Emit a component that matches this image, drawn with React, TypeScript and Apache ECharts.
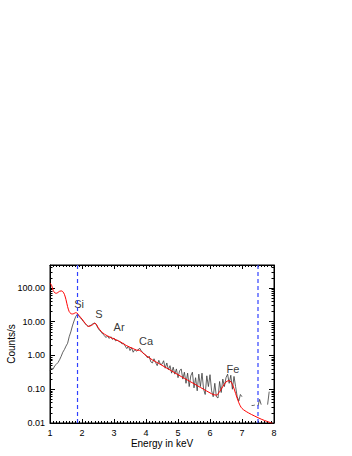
import React, { useEffect, useRef } from "react";
import * as echarts from "echarts";

// Observed spectrum (black), E = 1.00 + 0.05*i keV
const dataStart = 1.0;
const dataStep = 0.05;
const observedCounts: (number | null)[] = [
  0.35, 0.42, 0.4, 0.5, 0.55, 0.62, 0.75, 0.95, 1.25, 1.5,
  1.9, 2.3, 3.6, 5.0, 7.5, 10.5, 14, 16.5, 15, 13,
  11.5, 10, 8.8, 7.8, 7.3, 7.6, 8.2, 8.8, 9.2, 8.0,
  6.5, 5.5, 5.0, 4.3, 3.9, 3.4, 3.8, 3.2, 3.6, 3.0,
  3.3, 2.7, 2.9, 2.6, 2.5, 2.2, 2.3, 1.9, 1.6, 1.9,
  1.4, 1.7, 1.25, 1.5, 1.35, 1.45, 1.65, 1.4, 1.2, 1.1,
  1.0, 0.85, 0.95, 0.65, 0.6, 0.8, 0.62, 0.5, 0.72, 0.55,
  0.55, 0.7, 0.42, 0.6, 0.38, 0.5, 0.3, 0.45, 0.28, 0.4,
  0.22, 0.35, 0.4, 0.2, 0.32, 0.15, 0.3, 0.12, 0.25, 0.32,
  0.11, 0.22, 0.09, 0.28, 0.12, 0.3, 0.1, 0.07, 0.25, 0.12,
  0.27, 0.09, 0.06, 0.15, 0.06, 0.055, 0.17, 0.08, 0.2, 0.12,
  0.22, 0.28, 0.15, 0.26, 0.1, 0.24, 0.12, 0.06, 0.045, 0.07,
  0.06, null, null, null, null, null, 0.033, 0.033, 0.034, null,
  0.032, 0.05, 0.035, null, null, null, 0.035, 0.085,
];

// Model spectrum (red)
const modelEnergy = [
  1.0, 1.05, 1.1, 1.15, 1.2, 1.25, 1.3, 1.35, 1.4, 1.45,
  1.5, 1.55, 1.6, 1.65, 1.7, 1.75, 1.8, 1.85, 1.9, 2.0,
  2.1, 2.2, 2.3, 2.4, 2.45, 2.5, 2.6, 2.7, 2.8, 2.9,
  3.0, 3.1, 3.2, 3.3, 3.4, 3.5, 3.6, 3.7, 3.8, 3.9,
  4.0, 4.2, 4.4, 4.6, 4.8, 5.0, 5.2, 5.4, 5.6, 5.8,
  6.0, 6.1, 6.2, 6.3, 6.4, 6.5, 6.6, 6.7, 6.8, 6.9,
  7.0, 7.2, 7.4, 7.6, 7.8, 7.95,
];
const modelCounts = [
  140, 120, 85, 72, 70, 74, 80, 82, 78, 65,
  45, 28, 20, 17.5, 17, 17.5, 18.5, 18, 15.5, 12,
  9, 7.3, 7.8, 9.0, 8.4, 6.8, 5.2, 4.3, 3.8, 3.4,
  3.1, 2.8, 2.55, 2.2, 1.95, 1.75, 1.6, 1.45, 1.42, 1.2,
  1.0, 0.74, 0.58, 0.45, 0.35, 0.27, 0.21, 0.165, 0.128, 0.1,
  0.078, 0.07, 0.067, 0.085, 0.12, 0.165, 0.18, 0.14, 0.075, 0.04,
  0.027, 0.02, 0.016, 0.013, 0.011, 0.0098,
];

// Emission line labels
const lineNames = ["Si", "S", "Ar", "Ca", "Fe"];
const lineEnergy = [1.91, 2.53, 3.16, 4.0, 6.72];
const lineLabelY = [34, 17.5, 7.2, 2.6, 0.41];

// Vertical dashed limits (keV)
const limits = [7.5, 1.86];

const xMin = 1;
const xMax = 8;
const yMin = 0.01;
const yMax = 480;

export default function App() {
  const ref = useRef<HTMLDivElement>(null);
  useEffect(() => {
    if (!ref.current) return;
    const chart = echarts.init(ref.current, null, { renderer: "svg" });
    const font = "Liberation Sans, Arial, Helvetica, sans-serif";
    const obs = observedCounts.map((v, i) => [
      +(dataStart + i * dataStep).toFixed(2),
      v === null ? "-" : v,
    ]);
    const model = modelEnergy.map((e, i) => [e, modelCounts[i]]);
    const labels = lineNames.map((n, i) => ({
      name: n,
      value: [lineEnergy[i], lineLabelY[i]],
    }));
    const limitSeries = limits.map((x, i) => ({
      type: "line",
      name: "limit" + i,
      data: [
        [x, yMin],
        [x, yMax],
      ],
      symbol: "none",
      showSymbol: false,
      silent: true,
      color: "#3040ff",
      lineStyle: { color: "#3040ff", type: [4, 3], width: 1.2 },
      z: 5,
    }));
    const tickStyle = { lineStyle: { color: "#000", width: 1 } };
    chart.setOption({
      animation: false,
      backgroundColor: "#fff",
      textStyle: { fontFamily: font },
      grid: {
        left: 50,
        right: 78,
        top: 265,
        bottom: 33,
        containLabel: false,
        outerBoundsMode: "none",
        show: true,
        borderColor: "#000",
        borderWidth: 1,
        backgroundColor: "transparent",
      },
      xAxis: [
        {
          type: "value",
          min: xMin,
          max: xMax,
          interval: 1,
          position: "bottom",
          name: "Energy in keV",
          nameLocation: "middle",
          nameGap: 15,
          nameMoveOverlap: false,
          nameTextStyle: { fontSize: 10, color: "#000", fontFamily: font },
          axisLine: { show: true, lineStyle: { color: "#000", width: 1 } },
          axisTick: { show: true, inside: true, length: 4, ...tickStyle },
          minorTick: { show: true, splitNumber: 10, length: 2, ...tickStyle },
          axisLabel: { fontSize: 9, color: "#000", margin: 5, fontFamily: font },
          splitLine: { show: false },
        },
        {
          type: "value",
          min: xMin,
          max: xMax,
          interval: 1,
          position: "top",
          axisLine: { show: true, lineStyle: { color: "#000", width: 1 } },
          axisTick: { show: true, inside: true, length: 4, ...tickStyle },
          minorTick: { show: true, splitNumber: 10, length: 2, ...tickStyle },
          axisLabel: { show: false },
          splitLine: { show: false },
        },
      ],
      yAxis: [
        {
          type: "log",
          logBase: 10,
          min: yMin,
          max: yMax,
          position: "left",
          name: "Counts/s",
          nameLocation: "middle",
          nameGap: 34,
          nameMoveOverlap: false,
          nameTextStyle: { fontSize: 10, color: "#000", fontFamily: font },
          axisLine: { show: true, lineStyle: { color: "#000", width: 1 } },
          axisTick: { show: true, inside: true, length: 5, ...tickStyle },
          minorTick: { show: true, splitNumber: 9, length: 2.5, ...tickStyle },
          axisLabel: {
            fontSize: 9,
            color: "#000",
            margin: 5,
            fontFamily: font,
            showMaxLabel: false,
            formatter: (v: number) => {
              const l = Math.log10(v);
              if (Math.abs(l - Math.round(l)) > 1e-6) return "";
              return v.toFixed(2);
            },
          },
          splitLine: { show: false },
        },
        {
          type: "log",
          logBase: 10,
          min: yMin,
          max: yMax,
          position: "right",
          axisLine: { show: true, lineStyle: { color: "#000", width: 1 } },
          axisTick: { show: true, inside: true, length: 5, ...tickStyle },
          minorTick: { show: true, splitNumber: 9, length: 2.5, ...tickStyle },
          axisLabel: { show: false },
          splitLine: { show: false },
        },
      ],
      series: [
        ...limitSeries,
        {
          type: "line",
          name: "observed",
          data: obs,
          showSymbol: false,
          symbol: "none",
          connectNulls: false,
          lineStyle: { color: "#3a3a3a", width: 0.8 },
          clip: true,
          z: 2,
        },
        {
          type: "line",
          name: "model",
          data: model,
          showSymbol: false,
          symbol: "none",
          smooth: 0.3,
          lineStyle: { color: "#ff0000", width: 1 },
          clip: true,
          z: 3,
        },
        {
          type: "scatter",
          name: "lines",
          data: labels,
          symbolSize: 0,
          silent: true,
          itemStyle: { color: "#000" },
          label: {
            show: true,
            position: [0, 0],
            align: "center",
            verticalAlign: "middle",
            formatter: (p: any) => p.name,
            fontSize: 11,
            color: "#000",
            textBorderWidth: 0,
            fontFamily: font,
          },
          z: 4,
        },
      ],
    });
    return () => chart.dispose();
  }, []);
  return (
    <div
      ref={ref}
      style={{ position: "fixed", left: 0, top: 0, width: 352, height: 456 }}
    />
  );
}
